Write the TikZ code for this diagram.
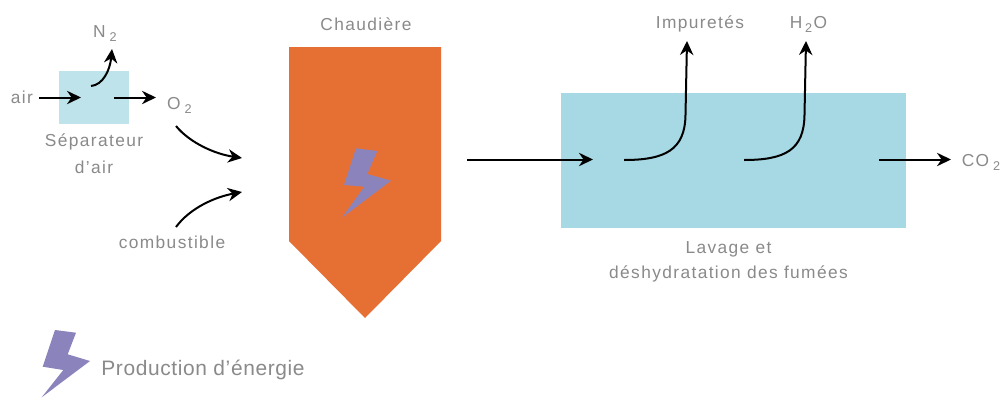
\documentclass[tikz,border=0pt]{standalone}
\usepackage{fontspec}
\setmainfont{Liberation Sans}
\newfontfamily\widefont[LetterSpace=8]{Liberation Sans}
\newfontfamily\legendfont[LetterSpace=3]{Liberation Sans}
\usetikzlibrary{arrows.meta}
\definecolor{txtgray}{HTML}{8A8A8A}
\definecolor{boiler}{HTML}{E66F33}
\definecolor{bolt}{HTML}{8B83BC}
\definecolor{sepblue}{HTML}{BFE3EA}
\definecolor{washblue}{HTML}{A7D9E4}
\tikzset{
  lbl/.style={text=txtgray,font=\widefont\fontsize{13pt}{16pt}\selectfont,inner sep=0pt,align=center},
  flow/.style={draw=black,line width=1.5pt,-{Stealth[length=10.5pt,width=10pt]}},
  boltshape/.style={fill=bolt,draw=none},
  blockfill/.style={draw=none}
}
\newcommand{\subt}[1]{\hspace{3pt}\raisebox{-3pt}{\fontsize{9.5pt}{10pt}\selectfont #1}}
\newcommand{\subm}[1]{\hspace{2pt}\raisebox{-3pt}{\fontsize{9.5pt}{10pt}\selectfont #1}\hspace{1pt}}
\begin{document}
\begin{tikzpicture}[x=0.75pt,y=-0.75pt]
\useasboundingbox (0,0) rectangle (1000,397);
\fill[white] (0,0) rectangle (1000,397);
% blocks
\node[blockfill,fill=sepblue,minimum width=52.5pt,minimum height=39.75pt,inner sep=0pt] (sep) at (94,97.5) {};
\node[blockfill,fill=washblue,minimum width=258.75pt,minimum height=101.25pt,inner sep=0pt] (wash) at (733.5,160.5) {};
\fill[boiler] (289,47) -- (441,47) -- (441,241) -- (365,318) -- (289,241) -- cycle;
% bolts
\fill[boltshape] (356,148.3) -- (377.3,151) -- (367.3,174) -- (391,180.7) -- (342,217.7) -- (364.3,186.7) -- (344,185) -- cycle;
\fill[boltshape] (55,330) -- (76,332.7) -- (67.7,354.3) -- (90,361) -- (41.7,397.3) -- (63.3,370) -- (42.7,366.7) -- cycle;
% labels
\node[lbl] (air) at (22,97) {air};
\node[lbl] (n2) at (105,33.5) {N\subt{2}};
\node[lbl] (o2) at (179.5,105) {O\subt{2}};
\node[lbl] (seplbl) at (94,153.5) {Séparateur\\[4pt]d’air};
\node[lbl] (comb) at (172,242.5) {combustible};
\node[lbl] (chaud) at (366,24) {Chaudière};
\node[lbl] (imp) at (700,24) {Impuretés};
\node[lbl] (h2o) at (808.5,24.5) {H\subm{2}O};
\node[lbl] (co2) at (981,162) {CO\subt{2}};
\node[lbl] (washlbl) at (728.5,262) {Lavage et\\[2.5pt]déshydratation des fumées};
\node[lbl,font=\legendfont\fontsize{15.7pt}{18pt}\selectfont] (prod) at (203,369.5) {Production d’énergie};
% connector ends
\coordinate (a1) at (39,97.5); \coordinate (a2) at (81,97.5);
\coordinate (n1) at (91,86);   \coordinate (n3) at (112,49);
\coordinate (o1) at (114,97.5);\coordinate (o3) at (156,97.5);
\coordinate (p1) at (176,126); \coordinate (p2) at (242,158);
\coordinate (c1) at (176,227); \coordinate (c2) at (242,192);
\coordinate (m1) at (467,159.5);\coordinate (m2) at (593,159.5);
\coordinate (i1) at (624,160); \coordinate (i2) at (687,41);
\coordinate (h1) at (744,160); \coordinate (h2) at (806,41);
\coordinate (g1) at (879,159.5);\coordinate (g2) at (951,159.5);
% connectors
\draw[flow] (a1) -- (a2);
\draw[flow] (n1) .. controls (103,85) and (110,70) .. (n3);
\draw[flow] (o1) -- (o3);
\draw[flow] (p1) .. controls (190,143) and (215,154) .. (p2);
\draw[flow] (c1) .. controls (190,208) and (215,197) .. (c2);
\draw[flow] (m1) -- (m2);
\draw[flow] (i1) .. controls (665,160) and (685,150) .. (685.5,115) -- (i2);
\draw[flow] (h1) .. controls (785,160) and (804,150) .. (804.5,115) -- (h2);
\draw[flow] (g1) -- (g2);
\end{tikzpicture}
\end{document}
